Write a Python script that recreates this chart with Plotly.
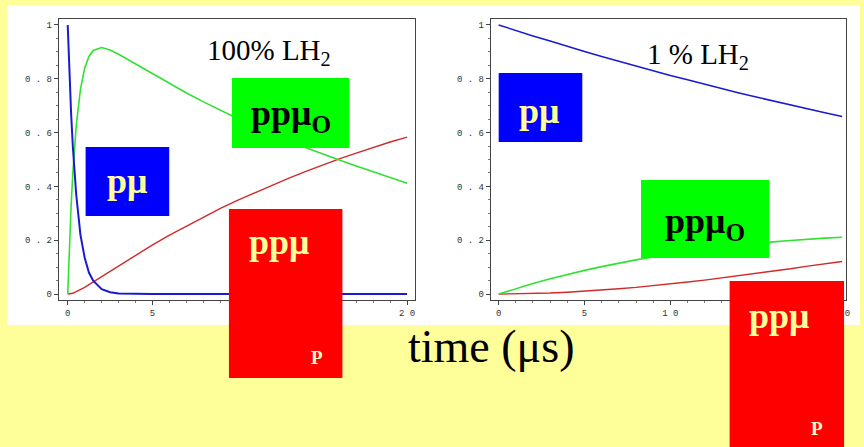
import plotly.graph_objects as go

W, H = 864, 447

# ---- data: 100% LH2 panel ----
t_left = [0, 0.1, 0.2, 0.3, 0.4, 0.5, 0.75, 1, 1.25, 1.5, 2, 2.5, 3, 3.5, 4, 5, 6, 7, 8, 9, 10,
          11, 12, 13, 14, 15, 16, 17, 18, 19, 20]
pmu_left = [1.0, 0.82, 0.67, 0.55, 0.45, 0.37, 0.22, 0.135, 0.08, 0.05, 0.018, 0.007, 0.002, 0.001, 0.0,
            0.0, 0.0, 0.0, 0.0, 0.0, 0.0, 0.0, 0.0, 0.0, 0.0, 0.0, 0.0, 0.0, 0.0, 0.0, 0.0]
ppmuo_left = [0.0, 0.181, 0.328, 0.448, 0.545, 0.624, 0.761, 0.840, 0.883, 0.905, 0.916, 0.907, 0.891,
              0.873, 0.854, 0.817, 0.781, 0.747, 0.714, 0.682, 0.652, 0.624, 0.596, 0.570, 0.545,
              0.521, 0.498, 0.476, 0.455, 0.433, 0.412]
ppmup_left = [0.0, 0.0, 0.002, 0.003, 0.006, 0.008, 0.016, 0.025, 0.035, 0.045, 0.066, 0.086, 0.106,
              0.126, 0.146, 0.183, 0.219, 0.253, 0.286, 0.318, 0.348, 0.376, 0.404, 0.430, 0.455,
              0.479, 0.502, 0.524, 0.545, 0.565, 0.583]

# ---- data: 1% LH2 panel ----
t_right = list(range(0, 21))
pmu_right = [1.0, 0.979, 0.959, 0.940, 0.920, 0.901, 0.883, 0.865, 0.847, 0.829, 0.812, 0.796, 0.779,
             0.763, 0.747, 0.732, 0.717, 0.702, 0.688, 0.674, 0.660]
ppmuo_right = [0.0, 0.020, 0.039, 0.057, 0.073, 0.088, 0.102, 0.115, 0.127, 0.138, 0.148, 0.157, 0.166,
               0.174, 0.181, 0.188, 0.194, 0.199, 0.204, 0.208, 0.211]
ppmup_right = [0.0, 0.0005, 0.002, 0.004, 0.007, 0.0105, 0.015, 0.020, 0.025, 0.031, 0.038, 0.045,
               0.052, 0.060, 0.068, 0.077, 0.085, 0.094, 0.104, 0.113, 0.121]

y_ticks = [0, 0.2, 0.4, 0.6, 0.8, 1]
y_ticklabels = ["0", "0 . 2", "0 . 4", "0 . 6", "0 . 8", "1"]
x_ticks = [0, 5, 10, 15, 20]
x_ticklabels = ["0", "5", "1 0", "1 5", "2 0"]

BLUE_LINE = "#1a1ad0"
GREEN_LINE = "#33e033"
RED_LINE = "#d02a2a"
YELLOW = "#FFFF99"


def px(x):
    return x / W


def py(y):
    return 1 - y / H


fig = go.Figure()

for (t, b, g, r, xa, ya, bw) in [
    (t_left, pmu_left, ppmuo_left, ppmup_left, "x", "y", 2.0),
    (t_right, pmu_right, ppmuo_right, ppmup_right, "x2", "y2", 1.5),
]:
    fig.add_trace(go.Scatter(x=t, y=r, mode="lines", line=dict(color=RED_LINE, width=1.4),
                             xaxis=xa, yaxis=ya, showlegend=False, hoverinfo="skip"))
    fig.add_trace(go.Scatter(x=t, y=g, mode="lines", line=dict(color=GREEN_LINE, width=1.6),
                             xaxis=xa, yaxis=ya, showlegend=False, hoverinfo="skip"))
    fig.add_trace(go.Scatter(x=t, y=b, mode="lines", line=dict(color=BLUE_LINE, width=bw),
                             xaxis=xa, yaxis=ya, showlegend=False, hoverinfo="skip"))

FRAME = "#444444"
tickfont = dict(family="Liberation Mono", size=9, color="#333333")
axis_common = dict(showgrid=False, zeroline=False, showline=True, linecolor=FRAME, linewidth=1,
                   mirror=True, ticks="outside", ticklen=4, tickcolor=FRAME, tickfont=tickfont,
                   minor=dict(ticks="outside", ticklen=2, tickcolor="#777777"))
mirror_common = dict(showgrid=False, zeroline=False, showline=False, showticklabels=False,
                     ticks="inside", ticklen=4, tickcolor=FRAME,
                     minor=dict(ticks="inside", ticklen=2, tickcolor="#777777"))

y_dom = [py(300), py(19)]
xr_left = [-0.53, 20.47]
xr_right = [-0.46, 20.23]
yr = [-0.022, 1.022]
fig.update_layout(
    width=W, height=H, margin=dict(l=0, r=0, t=0, b=0),
    paper_bgcolor=YELLOW, plot_bgcolor="white",
    xaxis=dict(domain=[px(59), px(417)], range=xr_left, tickvals=x_ticks,
               ticktext=x_ticklabels, anchor="y", minor_dtick=1, **axis_common),
    yaxis=dict(domain=y_dom, range=yr, tickvals=y_ticks, ticktext=y_ticklabels,
               anchor="x", minor_dtick=0.05, **axis_common),
    xaxis2=dict(domain=[px(493), px(850)], range=xr_right, tickvals=x_ticks,
                ticktext=x_ticklabels, anchor="y2", minor_dtick=1, **axis_common),
    yaxis2=dict(domain=y_dom, range=yr, tickvals=y_ticks, ticktext=y_ticklabels,
                anchor="x2", minor_dtick=0.05, **axis_common),
    # mirrored frame ticks (top / right) pointing inward
    xaxis3=dict(overlaying="x", side="top", range=xr_left, tickvals=x_ticks, anchor="y",
                minor_dtick=1, **mirror_common),
    yaxis3=dict(overlaying="y", side="right", range=yr, tickvals=y_ticks, anchor="x",
                minor_dtick=0.05, **mirror_common),
    xaxis4=dict(overlaying="x2", side="top", range=xr_right, tickvals=x_ticks, anchor="y2",
                minor_dtick=1, **mirror_common),
    yaxis4=dict(overlaying="y2", side="right", range=yr, tickvals=y_ticks, anchor="x2",
                minor_dtick=0.05, **mirror_common),
)

shapes = []
# white panel behind the plots
shapes.append(dict(type="rect", xref="paper", yref="paper", x0=px(7), x1=px(864), y0=py(325), y1=py(5),
                   fillcolor="white", line=dict(width=0), layer="below"))


def box(x0, x1, y0, y1, color):
    shapes.append(dict(type="rect", xref="paper", yref="paper", x0=px(x0), x1=px(x1), y0=py(y1), y1=py(y0),
                       fillcolor=color, line=dict(width=0), layer="above"))


box(86, 170, 147, 216, "#0000FF")
box(233, 351, 78, 148, "#00FF00")
box(230, 344, 209, 378, "#FF0000")
box(501, 585, 73, 142, "#0000FF")
box(644, 773, 180, 258, "#00FF00")
box(733, 848, 281, 447, "#FF0000")
fig.update_layout(shapes=shapes)

annotations = []


def label(text, x, y, size, color, bold=True, xanchor="center"):
    txt = f"<b>{text}</b>" if bold else text
    annotations.append(dict(text=txt, x=px(x), y=py(y), xref="paper", yref="paper", showarrow=False,
                            xanchor=xanchor, yanchor="middle",
                            font=dict(family="Liberation Serif", size=size, color=color)))


label("pμ", 128, 181, 36, YELLOW)
label("pμ", 542, 111, 36, YELLOW)
label("ppμ<sub>O</sub>", 292, 116, 36, "black")
label("ppμ<sub>O</sub>", 708, 223, 36, "black")
label("ppμ", 280, 242, 36, YELLOW)
label("ppμ", 783, 316, 36, YELLOW)
label("P", 318, 357, 19, "#FFFFCC")
label("P", 821, 428, 19, "#FFFFCC")
label("100% LH<sub>2</sub>", 206, 52, 29, "black", bold=False, xanchor="left")
label("1 % LH<sub>2</sub>", 648, 56, 29, "black", bold=False, xanchor="left")
label("time (μs)", 408, 346, 46, "black", bold=False, xanchor="left")
fig.update_layout(annotations=annotations)

fig.write_html("out.html", config={"displayModeBar": False},
               post_script="document.body.style.margin='0';document.body.style.overflow='hidden';")
